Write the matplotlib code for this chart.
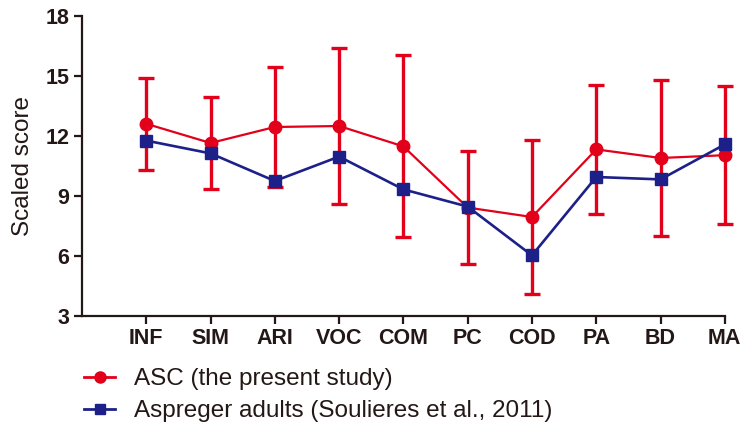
import matplotlib
matplotlib.use('Agg')
import matplotlib.pyplot as plt
from matplotlib.lines import Line2D

subtests = ['INF', 'SIM', 'ARI', 'VOC', 'COM', 'PC', 'COD', 'PA', 'BD', 'MA']
asc_mean = [12.61, 11.65, 12.45, 12.50, 11.48, 8.42, 7.95, 11.33, 10.90, 11.04]
asc_sd = [2.31, 2.28, 2.98, 3.92, 4.55, 2.83, 3.87, 3.23, 3.92, 3.44]
asperger_mean = [11.77, 11.13, 9.75, 10.97, 9.33, 8.47, 6.03, 9.95, 9.83, 11.58]

plt.rcParams['font.family'] = ['Liberation Sans', 'DejaVu Sans']

red = '#e2001a'
blue = '#1d2088'
ink = '#231815'

fig = plt.figure(figsize=(7.48, 4.28), dpi=100)
ax = fig.add_axes([0.1096, 0.2617, 0.8594, 0.7009])

x = list(range(len(subtests)))
eb = ax.errorbar(x, asc_mean, yerr=asc_sd, color=red, lw=1.6, marker='o', ms=9,
                 elinewidth=2.4, capsize=6, capthick=2.4, zorder=2)
for part in eb.lines[1] + eb.lines[2]:
    part.set_clip_on(False)
eb.lines[0].set_clip_on(False)
bl, = ax.plot(x, asperger_mean, color=blue, lw=1.9, marker='s', ms=9, zorder=3)
bl.set_clip_on(False)

ax.set_xlim(-1, 9)
ax.set_ylim(3, 18)
ax.set_yticks([3, 6, 9, 12, 15, 18])
ax.set_xticks(x)
ax.set_xticklabels(subtests)
ax.spines['top'].set_visible(False)
ax.spines['right'].set_visible(False)
for s in ('left', 'bottom'):
    ax.spines[s].set_linewidth(1.6)
    ax.spines[s].set_color(ink)
ax.tick_params(axis='both', direction='out', length=6, width=1.6, color=ink,
               labelsize=15.5, pad=3)
for lab in ax.get_xticklabels() + ax.get_yticklabels():
    lab.set_fontweight('bold')
    lab.set_color(ink)
ax.set_ylabel('Scaled score', fontsize=17.5, color=ink, labelpad=8)

handles = [Line2D([], [], color=red, lw=2, marker='o', ms=8),
           Line2D([], [], color=blue, lw=2, marker='s', ms=7)]
labels = ['ASC (the present study)', 'Aspreger adults (Soulieres et al., 2011)']
fig.legend(handles, labels, loc='upper left', bbox_to_anchor=(0.099, 0.162),
           frameon=False, fontsize=17.5, handlelength=1.3, handletextpad=0.75,
           labelspacing=0.4, borderaxespad=0, labelcolor=ink)

plt.savefig('out.png', dpi=100)
